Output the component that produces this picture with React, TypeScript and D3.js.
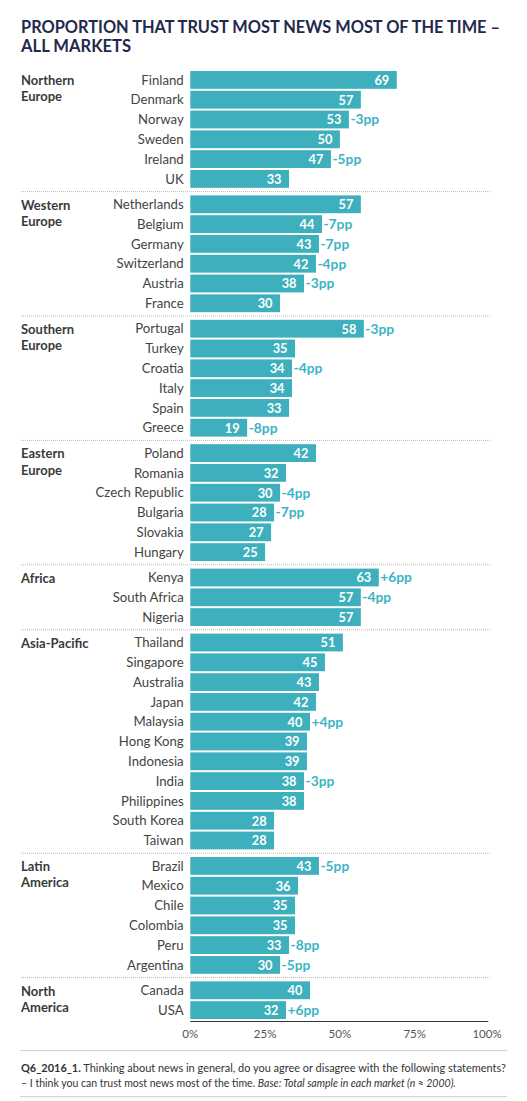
import * as d3 from "d3";

const regions = ["Northern Europe", "Western Europe", "Southern Europe", "Eastern Europe", "Africa", "Asia-Pacific", "Latin America", "North America"];
const countries = [
  "Finland", "Denmark", "Norway", "Sweden", "Ireland", "UK",
  "Netherlands", "Belgium", "Germany", "Switzerland", "Austria", "France",
  "Portugal", "Turkey", "Croatia", "Italy", "Spain", "Greece",
  "Poland", "Romania", "Czech Republic", "Bulgaria", "Slovakia", "Hungary",
  "Kenya", "South Africa", "Nigeria",
  "Thailand", "Singapore", "Australia", "Japan", "Malaysia", "Hong Kong", "Indonesia", "India", "Philippines", "South Korea", "Taiwan",
  "Brazil", "Mexico", "Chile", "Colombia", "Peru", "Argentina",
  "Canada", "USA",
];
const regionOf = [
  0, 0, 0, 0, 0, 0,
  1, 1, 1, 1, 1, 1,
  2, 2, 2, 2, 2, 2,
  3, 3, 3, 3, 3, 3,
  4, 4, 4,
  5, 5, 5, 5, 5, 5, 5, 5, 5, 5, 5,
  6, 6, 6, 6, 6, 6,
  7, 7,
];
const trust = [
  69, 57, 53, 50, 47, 33,
  57, 44, 43, 42, 38, 30,
  58, 35, 34, 34, 33, 19,
  42, 32, 30, 28, 27, 25,
  63, 57, 57,
  51, 45, 43, 42, 40, 39, 39, 38, 38, 28, 28,
  43, 36, 35, 35, 33, 30,
  40, 32,
];
const change: (number | null)[] = [
  null, null, -3, null, -5, null,
  null, -7, -7, -4, -3, null,
  -3, null, -4, null, null, -8,
  null, null, -4, -7, null, null,
  6, -4, null,
  null, null, null, null, 4, null, null, -3, null, null, null,
  -5, null, null, null, -8, -5,
  null, 6,
];
const ticks = [0, 25, 50, 75, 100];

const W = 527, H = 1101;
const TEAL = "#3EAFBC";
const FONT = "Lato, 'Open Sans', sans-serif";

export default function App() {
  const x = d3.scaleLinear().domain([0, 100]).range([190.3, 489.5]);
  const pitch = 19.8, gap = 5.6, barH = 17.8, top0 = 71;
  const rowTop = countries.map((_, i) => top0 + i * pitch + regionOf[i] * gap);
  const fmt = (v: number) => (v > 0 ? `+${v}pp` : `${v}pp`);

  // group boundaries
  const firstIdx = regions.map((_, r) => regionOf.indexOf(r));
  const lastIdx = regions.map((_, r) => regionOf.lastIndexOf(r));
  const seps = regions.slice(1).map((_, r) => (rowTop[lastIdx[r]] + barH + rowTop[firstIdx[r + 1]]) / 2);
  const axisY = rowTop[countries.length - 1] + barH + 2.5;

  return (
    <div style={{ position: "absolute", left: 0, top: 0 }}>
      <svg width={W} height={H} style={{ display: "block", fontFamily: FONT }}>
        <rect width={W} height={H} fill="#fff" />
        <text x={21} y={33.3} fontSize={16.6} fontWeight={700} fill="#1F2A4D" textLength={479} lengthAdjust="spacingAndGlyphs">
          PROPORTION THAT TRUST MOST NEWS MOST OF THE TIME –
        </text>
        <text x={21} y={51.9} fontSize={16.6} fontWeight={700} fill="#1F2A4D">ALL MARKETS</text>

        {seps.map((y, i) => (
          <line key={i} x1={21} x2={491} y1={y} y2={y} stroke="#bbb" strokeWidth={1} strokeDasharray="1,1" />
        ))}

        {regions.map((r, i) => (
          <text key={r} x={21} y={rowTop[firstIdx[i]] + 14.2} fontSize={13} fontWeight={700} fill="#3a3a3a">
            {r.split(" ").map((w, k) => (
              <tspan key={k} x={21} dy={k === 0 ? 0 : 16.2}>{w}</tspan>
            ))}
          </text>
        ))}

        {countries.map((c, i) => {
          const yc = rowTop[i] + barH / 2;
          const xe = x(trust[i]);
          return (
            <g key={c}>
              <text x={183.7} y={yc} dy="0.36em" textAnchor="end" fontSize={13.2} fill="#444">{c}</text>
              <rect x={x(0)} y={rowTop[i]} width={xe - x(0)} height={barH} fill={TEAL} />
              <text x={xe - 7.5} y={yc} dy="0.38em" textAnchor="end" fontSize={12.8} fontWeight={700} fill="#fff">{trust[i]}</text>
              {change[i] !== null && (
                <text x={xe + 1.5} y={yc} dy="0.36em" fontSize={13.8} fontWeight={700} fill="#3BB4C4">{fmt(change[i] as number)}</text>
              )}
            </g>
          );
        })}

        <line x1={x(0)} x2={488.3} y1={axisY} y2={axisY} stroke="#333" strokeWidth={1} />
        {ticks.map((t) => (
          <text key={t} x={x(t) - (t === 100 ? 2.5 : 0)} y={axisY + 16.5} textAnchor="middle" fontSize={11.5} fill="#555">{t}%</text>
        ))}

        <line x1={20} x2={507} y1={1050.7} y2={1050.7} stroke="#ccc" strokeWidth={1} />
        <text x={21} y={1071.5} fontSize={10.5} fill="#333" textLength={485} lengthAdjust="spacingAndGlyphs">
          <tspan fontWeight={700}>Q6_2016_1.</tspan> Thinking about news in general, do you agree or disagree with the following statements?
        </text>
        <text x={21} y={1087.3} fontSize={10.5} fill="#333">
          – I think you can trust most news most of the time. <tspan fontStyle="italic">Base: Total sample in each market (n ≈ 2000).</tspan>
        </text>
        <line x1={20} x2={507} y1={1096.7} y2={1096.7} stroke="#ccc" strokeWidth={1} />
      </svg>
    </div>
  );
}
